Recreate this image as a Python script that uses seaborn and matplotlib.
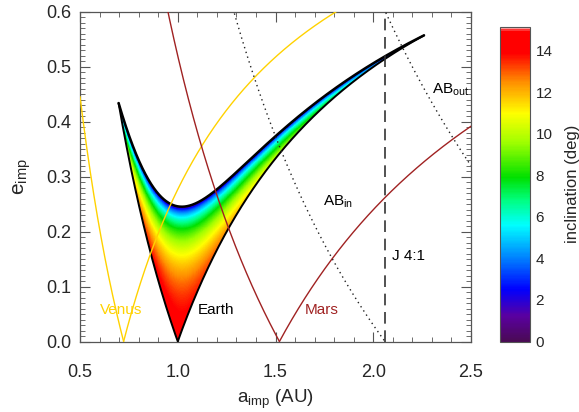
import numpy as np
import matplotlib
matplotlib.use("Agg")
import matplotlib.pyplot as plt
import seaborn as sns
from matplotlib.colors import LinearSegmentedColormap
from matplotlib.ticker import MultipleLocator

# orbit distances (AU) that set the crossing curves
A_VENUS    = 0.723
A_MARS     = 1.52
Q_BELT_IN  = 2.06     # aphelion of inner belt edge
Q_BELT_OUT = 3.30     # aphelion of outer belt edge
A_J41      = 2.06     # Jupiter 4:1 resonance
U_INF      = 0.248    # encounter speed / Earth orbital speed

X_TICKS  = [0.5, 1.0, 1.5, 2.0, 2.5]
Y_TICKS  = [0.0, 0.1, 0.2, 0.3, 0.4, 0.5, 0.6]
CB_TICKS = [0, 2, 4, 6, 8, 10, 12, 14]
CB_MAX   = 15.15

# rainbow table (inclination value, colour)
CMAP_VALS = [0.0, 1.2, 2.5, 3.8, 5.6, 6.8, 7.9, 9.6, 11.0, 12.5, 13.9, 15.0, 15.15]
CMAP_COLS = ["#4a0a55", "#5a00a0", "#0000ff", "#0070ff", "#00ffff", "#00ff80",
             "#00e000", "#a0ff00", "#ffff00", "#ff9000", "#ff0000", "#ff0000", "#ffffff"]

VENUS_COL = "#ffd200"
MARS_COL  = "#a02222"

sns.set_style("ticks")
plt.rcParams["font.family"] = ["Liberation Sans", "DejaVu Sans"]
plt.rcParams["mathtext.fontset"] = "custom"
plt.rcParams["mathtext.rm"] = "Liberation Sans"
plt.rcParams["mathtext.it"] = "Liberation Sans:italic"

cmap = LinearSegmentedColormap.from_list(
    "idl39", list(zip(np.array(CMAP_VALS) / CB_MAX, CMAP_COLS)))

fig = plt.figure(figsize=(5.79, 4.12), dpi=100)
ax = fig.add_axes([0.1382, 0.1711, 0.6753, 0.7998])

# inclination needed to reach U_INF for Earth-crossing orbits
a_grid = np.linspace(0.5, 2.5, 1400)
e_grid = np.linspace(0.0, 0.6, 1000)
A, E = np.meshgrid(a_grid, e_grid)
T = (3 - 1 / A - U_INF ** 2) / 2
cos_i = T / np.sqrt(A * (1 - E ** 2))
inc = np.degrees(np.arccos(np.clip(cos_i, -1, 1)))
crossing = (A * (1 - E) <= 1) & (A * (1 + E) >= 1)
inc = np.ma.masked_where(~crossing | (cos_i > 1), inc)
im = ax.imshow(inc, origin="lower", extent=[0.5, 2.5, 0, 0.6], aspect="auto",
               cmap=cmap, vmin=0, vmax=CB_MAX, interpolation="nearest", zorder=1)

# outline of the region
a_b = np.linspace(0.5, 2.5, 6000)
t_b = (3 - 1 / a_b - U_INF ** 2) / 2
e_top = np.sqrt(np.clip(1 - t_b ** 2 / a_b, 0, None))
e_low = np.abs(1 - 1 / a_b)
ok = e_top >= e_low
ax.plot(a_b[ok], e_top[ok], color="black", lw=1.8, zorder=3)
ax.plot(a_b[ok], e_low[ok], color="black", lw=1.4, zorder=3)


def crossing_lines(a_p, color, ls="-"):
    left = np.linspace(0.5, a_p, 400)
    right = np.linspace(a_p, 2.5, 800)
    sns.lineplot(x=left, y=a_p / left - 1, ax=ax, color=color, lw=1.0,
                 linestyle=ls, sort=False, zorder=4)
    sns.lineplot(x=right, y=1 - a_p / right, ax=ax, color=color, lw=1.0,
                 linestyle=ls, sort=False, zorder=4)


crossing_lines(A_VENUS, VENUS_COL)
crossing_lines(A_MARS, MARS_COL)

a_in = np.linspace(0.5, Q_BELT_IN, 600)
sns.lineplot(x=a_in, y=Q_BELT_IN / a_in - 1, ax=ax, color="#222222", lw=1.0,
             linestyle=(0, (1, 2.6)), sort=False, zorder=4)
a_out = np.linspace(1.5, 2.5, 600)
sns.lineplot(x=a_out, y=Q_BELT_OUT / a_out - 1, ax=ax, color="#222222", lw=1.0,
             linestyle=(0, (1, 2.6)), sort=False, zorder=4)
ax.axvline(A_J41, color="#333333", lw=1.2, linestyle=(0, (7, 4)), zorder=4)

ax.text(0.60, 0.057, "Venus", color=VENUS_COL, fontsize=11, va="center")
ax.text(1.10, 0.057, "Earth", color="black", fontsize=11, va="center")
ax.text(1.65, 0.057, "Mars", color=MARS_COL, fontsize=11, va="center")
ax.text(2.095, 0.156, "J 4:1", color="black", fontsize=11, va="center")
ax.text(1.745, 0.255, r"AB$_{\rm in}$", color="black", fontsize=11, va="center")
ax.text(2.30, 0.458, r"AB$_{\rm out}$", color="black", fontsize=11, va="center")

ax.set_xlim(0.5, 2.5)
ax.set_ylim(0.0, 0.6)
ax.set_xticks(X_TICKS)
ax.set_xticklabels([f"{v:.1f}" for v in X_TICKS])
ax.set_yticks(Y_TICKS)
ax.set_yticklabels([f"{v:.1f}" for v in Y_TICKS])
ax.xaxis.set_minor_locator(MultipleLocator(0.1))
ax.yaxis.set_minor_locator(MultipleLocator(0.01))
ax.tick_params(which="both", direction="in", top=True, right=True, color="#555555")
ax.tick_params(which="major", length=7, width=0.8, labelsize=13)
ax.tick_params(which="minor", length=3.5, width=0.6)
ax.tick_params(axis="x", which="major", pad=16)
ax.tick_params(axis="y", which="major", pad=6)
for s in ax.spines.values():
    s.set_color("#555555")
    s.set_linewidth(0.9)

ax.set_xlabel(r"a$_{\rm imp}$ (AU)", fontsize=13.5)
ax.set_ylabel(r"e$_{\rm imp}$", fontsize=15)
ax.xaxis.set_label_coords(0.5, -0.14)
ax.yaxis.set_label_coords(-0.12, 0.5)

cax = fig.add_axes([0.8636, 0.1711, 0.0518, 0.7634])
cb = fig.colorbar(im, cax=cax)
cb.set_ticks(CB_TICKS)
cb.ax.yaxis.set_minor_locator(MultipleLocator(1))
cb.ax.tick_params(which="both", direction="in", length=3, width=0.6,
                  color="#555555", labelsize=11, pad=4)
cb.outline.set_edgecolor("#555555")
cb.outline.set_linewidth(0.8)
cb.set_label("inclination (deg)", fontsize=12, labelpad=9)

fig.savefig("out.png", dpi=100)
